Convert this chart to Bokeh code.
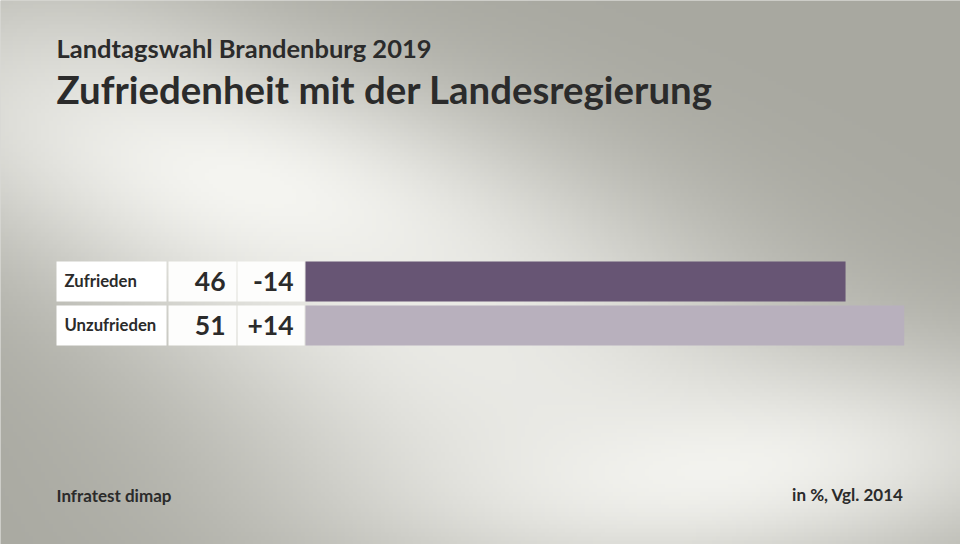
import numpy as np
from bokeh.plotting import figure
from bokeh.models import Range1d, ColumnDataSource
from bokeh.core.properties import value
from bokeh.embed import file_html
from bokeh.resources import INLINE

# ---- data ----
subtitle = "Landtagswahl Brandenburg 2019"
title = "Zufriedenheit mit der Landesregierung"
categories = ["Zufrieden", "Unzufrieden"]
shares = [46, 51]
changes = [-14, 14]
bar_colors = ["#675574", "#b8b0bd"]
source_note = "Infratest dimap"
unit_note = "in %, Vgl. 2014"

# ---- layout helpers (pixel coords, y downward -> figure data coords) ----
W, H = 960, 544
BASE_FIX = 0.4  # baseline correction as fraction of font size


def fx(X):
    return X


def fy(Y):
    return H - Y


PX_PER_UNIT = 11.74
ZERO_X = fx(305)

p = figure(width=W, height=H, output_backend="svg", toolbar_location=None,
           x_range=Range1d(0, W), y_range=Range1d(0, H), min_border=0)
p.extra_x_ranges = {"val": Range1d(-ZERO_X / PX_PER_UNIT, (W - ZERO_X) / PX_PER_UNIT)}
p.xaxis.visible = False
p.yaxis.visible = False
p.xgrid.visible = False
p.ygrid.visible = False
p.outline_line_color = None
p.background_fill_color = "#b4b4ac"
p.border_fill_color = "#b4b4ac"

# ---- soft background ----
nx, ny = 240, 136
xs = (np.arange(nx) + 0.5) * W / nx
ys = H - (np.arange(ny) + 0.5) * H / ny
X, Y = np.meshgrid(xs, ys)


def blob(cx, cy, sx, sy, ang, s):
    a = np.deg2rad(ang)
    dx, dy = X - cx, Y - cy
    u = dx * np.cos(a) + dy * np.sin(a)
    v = -dx * np.sin(a) + dy * np.cos(a)
    return s * np.exp(-0.5 * ((u / sx) ** 2 + (v / sy) ** 2))


t = np.zeros_like(X)
for b in [(250, 185, 260, 95, 15, 1.0), (720, 470, 260, 75, -5, 0.95),
          (470, 360, 230, 110, 10, 0.75), (60, 60, 120, 80, 0, 0.25)]:
    g = blob(*b)
    t = 1 - (1 - t) * (1 - g)
base = np.array([168, 168, 160], dtype=float)
light = np.array([245, 245, 241], dtype=float)
img = np.empty((ny, nx), dtype=np.uint32)
view = img.view(dtype=np.uint8).reshape((ny, nx, 4))
for k in range(3):
    view[:, :, k] = np.clip(base[k] + (light[k] - base[k]) * t, 0, 255).astype(np.uint8)
view[:, :, 3] = 255
p.image_rgba(image=[img], x=0, y=0, dw=W, dh=H)

# ---- rows ----
row_centers = [281 + 44 * i for i in range(len(categories))]
src = ColumnDataSource(dict(
    y=[fy(c) for c in row_centers],
    top=[fy(c - 20) for c in row_centers],
    bottom=[fy(c + 20) for c in row_centers],
    cat=categories,
    share=[str(v) for v in shares],
    change=[f"{c:+d}" for c in changes],
    val=shares,
    color=bar_colors,
))

p.quad(left=fx(56), right=fx(166), top="top", bottom="bottom", source=src,
       fill_color="white", line_color=None)
p.quad(left=fx(168), right=fx(236), top="top", bottom="bottom", source=src,
       fill_color="#fdfdfc", line_color=None)
p.quad(left=fx(237), right=fx(304), top="top", bottom="bottom", source=src,
       fill_color="#fdfdfc", line_color=None)

p.hbar(y="y", height=40, left=0, right="val", fill_color="color", line_color=None,
       source=src, x_range_name="val")

TXT = "#2b2b2b"
FONT = value("Lato")
LAB_FS, VAL_FS = 16.7, 26.5
p.text(x=fx(64), y="y", text="cat", source=src, y_offset=5.7 - BASE_FIX * LAB_FS,
       text_font=FONT, text_font_style="bold", text_font_size=f"{LAB_FS}px",
       text_color=TXT, text_baseline="alphabetic", text_align="left")
p.text(x=fx(225), y="y", text="share", source=src, y_offset=10.7 - BASE_FIX * VAL_FS,
       text_font=FONT, text_font_style="bold", text_font_size=f"{VAL_FS}px",
       text_color=TXT, text_baseline="alphabetic", text_align="right")
p.text(x=fx(293), y="y", text="change", source=src, y_offset=10.7 - BASE_FIX * VAL_FS,
       text_font=FONT, text_font_style="bold", text_font_size=f"{VAL_FS}px",
       text_color=TXT, text_baseline="alphabetic", text_align="right")


def label(txt, X, Yb, fs, align="left"):
    p.text(x=[fx(X)], y=[fy(Yb - BASE_FIX * fs)], text=[txt], text_font=FONT,
           text_font_style="bold", text_font_size=f"{fs}px", text_color=TXT,
           text_baseline="alphabetic", text_align=align)


# ---- titles & notes ----
label(subtitle, 56, 57.5, 25.5)
label(title, 56, 103.5, 38.4)
label(source_note, 56, 501.5, 17)
label(unit_note, 903, 501, 17, "right")

open("out.html", "w").write(file_html(p, INLINE))
